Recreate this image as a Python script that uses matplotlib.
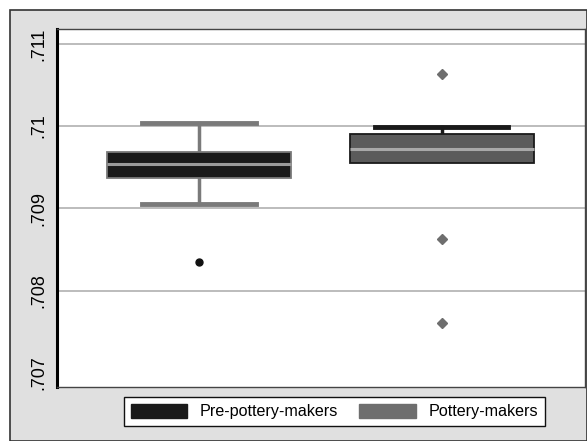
import matplotlib
matplotlib.use('Agg')
import matplotlib.pyplot as plt
from matplotlib.patches import Patch, Rectangle

plt.rcParams['font.family'] = ['Liberation Sans', 'DejaVu Sans']

# box statistics
groups   = ['Pre-pottery-makers', 'Pottery-makers']
q1       = [0.709366, 0.709549]
med      = [0.709537, 0.709720]
q3       = [0.709683, 0.709902]
wlo      = [0.709049, 0.709549]
whi      = [0.710037, 0.709988]
outliers = [[0.708354], [0.710634, 0.708634, 0.707610]]

yticks      = [0.707, 0.708, 0.709, 0.710, 0.711]
ytick_lbls  = ['.707', '.708', '.709', '.71', '.711']
grid_lines  = [0.708, 0.709, 0.710, 0.711]

fill_cols  = ['#1a1a1a', '#5b5b5b']
edge_cols  = ['#7a7a7a', '#1a1a1a']
med_cols   = ['#9a9a9a', '#a8a8a8']
flier_mk   = ['o', 'D']
flier_cols = ['#111111', '#6e6e6e']

W, H = 587, 441
fig = plt.figure(figsize=(W / 100, H / 100), dpi=100)
fig.patch.set_facecolor('white')
fig.add_artist(Rectangle((10 / W, 0), 1 - 10 / W, (H - 10) / H, transform=fig.transFigure,
                         facecolor='#e0e0e0', edgecolor='#333333', linewidth=1.2, zorder=0))

ax = fig.add_axes([57 / W, (H - 387) / H, (585 - 57) / W, (387 - 29) / H])
ax.set_facecolor('white')

positions = [0.269, 0.729]
capw = [0.216, 0.252]
stats = []
for i, g in enumerate(groups):
    stats.append(dict(label=g, q1=q1[i], med=med[i], q3=q3[i],
                      whislo=wlo[i], whishi=whi[i], fliers=outliers[i]))

for i, s in enumerate(stats):
    parts = ax.bxp([s], positions=[positions[i]], widths=0.35, capwidths=capw[i],
                   patch_artist=True, showfliers=True, manage_ticks=False,
                   boxprops=dict(facecolor=fill_cols[i], edgecolor=edge_cols[i], linewidth=1.3, zorder=3),
                   medianprops=dict(color=med_cols[i], linewidth=2.2, zorder=4),
                   whiskerprops=dict(color=edge_cols[i], linewidth=2.5, zorder=2),
                   capprops=dict(color=edge_cols[i], linewidth=3.5, zorder=2),
                   flierprops=dict(marker=flier_mk[i], markerfacecolor=flier_cols[i],
                                   markeredgecolor=flier_cols[i], markersize=5 if i == 0 else 5.5))
    # whisker collapsed onto the box edge: no visible cap there
    if s['whislo'] >= s['q1']:
        parts['caps'][0].set_visible(False)
    if s['whishi'] <= s['q3']:
        parts['caps'][1].set_visible(False)

for g in grid_lines:
    ax.axhline(g, color='#b0b0b0', linewidth=1.2, zorder=0.5)

ax.set_xlim(0, 1)
ax.set_ylim(0.70683, 0.71118)
ax.set_xticks([])
ax.set_yticks(yticks)
ax.set_yticklabels(ytick_lbls, rotation=90, va='center', fontsize=13)
ax.tick_params(axis='y', length=0, pad=7)

for side in ['top', 'right', 'bottom']:
    ax.spines[side].set_color('#444444')
    ax.spines[side].set_linewidth(1.0)
ax.spines['left'].set_color('black')
ax.spines['left'].set_linewidth(2.2)

handles = [Patch(facecolor=fill_cols[0], edgecolor=fill_cols[0]),
           Patch(facecolor='#6e6e6e', edgecolor='#6e6e6e')]
leg = fig.legend(handles, groups, ncol=2, loc='center',
                 bbox_to_anchor=(334.5 / W, 1 - 411.5 / H),
                 fancybox=False, framealpha=1, edgecolor='#111111',
                 fontsize=11.6, handlelength=3.5, handleheight=1.0,
                 handletextpad=0.8, columnspacing=1.3, borderpad=0.4)
leg.get_frame().set_linewidth(1.0)

fig.savefig('out.png', dpi=100)
